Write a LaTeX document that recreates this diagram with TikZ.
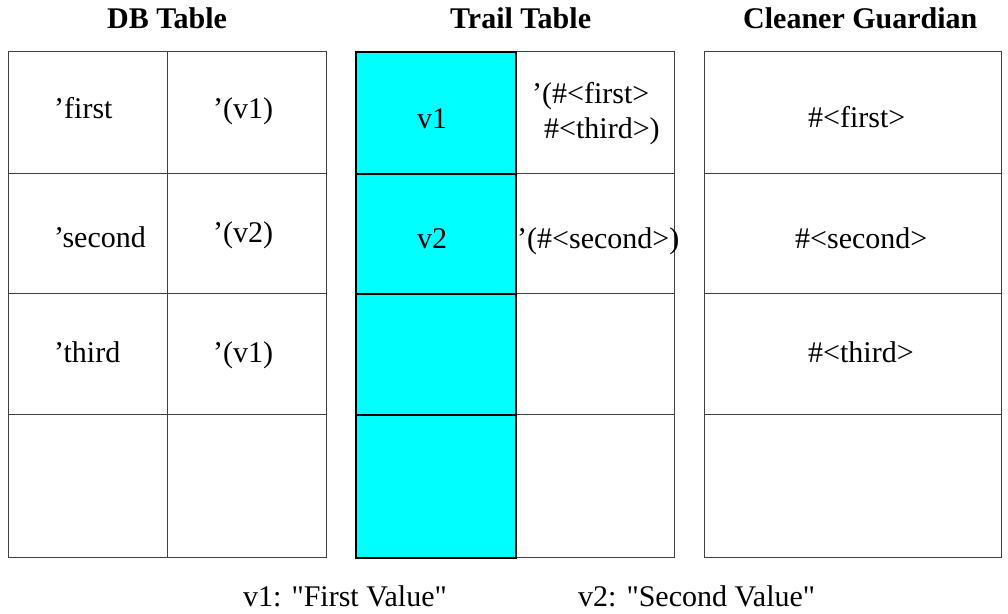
\documentclass[tikz,border=0pt]{standalone}
\usepackage{fontspec}
\setmainfont{Liberation Serif}
\newfontfamily\rawfont{Liberation Serif}[Ligatures=TeXOff]
\definecolor{keycyan}{RGB}{0,255,255}
\begin{document}
\begin{tikzpicture}[x=1pt,y=-1pt,
  cell/.style={draw=black!75, line width=1.3pt, inner sep=0pt, anchor=north west},
  keycell/.style={draw=black, line width=2pt, fill=keycyan, inner sep=0pt, anchor=north west},
  txt/.style={inner sep=0pt, anchor=base west, font=\fontsize{30}{35}\selectfont},
  head/.style={inner sep=0pt, anchor=base west, font=\fontsize{30}{35}\selectfont\bfseries}]
\useasboundingbox (0,0) rectangle (1008,613);
\fill[white] (0,0) rectangle (1008,613);
% headings
\node[head] (hdb) at (107,28) {DB Table};
\node[head] (htrail) at (450,28) {Trail Table};
\node[head] (hclean) at (743,28) {Cleaner Guardian};
% cells
\foreach \r/\y/\h in {1/51/121.5, 2/172.5/120.5, 3/293/120.5, 4/413.5/143.5} {
  \node[cell, minimum width=159pt, minimum height=\h pt] (db-\r-1) at (8,\y) {};
  \node[cell, minimum width=159pt, minimum height=\h pt] (db-\r-2) at (167,\y) {};
  \node[cell, minimum width=159pt, minimum height=\h pt] (tr-\r-2) at (515,\y) {};
  \node[cell, minimum width=297pt, minimum height=\h pt] (cg-\r) at (704,\y) {};
}
\foreach \r/\y/\h in {1/51/121.5, 2/172.5/120.5, 3/293/120.5, 4/413.5/143.5} {
  \node[keycell, minimum width=160pt, minimum height=\h pt] (tr-\r-1) at (355,\y) {};
}
% DB table texts
\node[txt] (k1) at (54,118) {'first};
\node[txt] (v1a) at (213,118) {'(v1)};
\node[txt] (k2) at (54,247) {'second};
\node[txt] (v2a) at (213,242) {'(v2)};
\node[txt] (k3) at (54,362) {'third};
\node[txt] (v1b) at (213,362) {'(v1)};
% Trail table texts
\node[txt] (tv1) at (417,128) {v1};
\node[txt] (tl1a) at (532,103) {'(\#<first>};
\node[txt] (tl1b) at (544,138) {\#<third>)};
\node[txt] (tv2) at (417,248) {v2};
\node[txt] (tl2) at (517,248) {'(\#<second>)};
% Cleaner guardian texts
\node[txt] (g1) at (808,127) {\#<first>};
\node[txt] (g2) at (795,248) {\#<second>};
\node[txt] (g3) at (808,362) {\#<third>};
% legend
\node[txt] (leg1) at (243,606) {\rawfont v1: "First Value"};
\node[txt] (leg2) at (578,606) {\rawfont v2: "Second Value"};
\end{tikzpicture}
\end{document}
